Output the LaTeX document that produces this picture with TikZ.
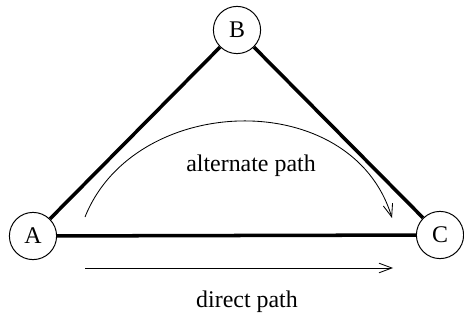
\documentclass[tikz,border=0pt]{standalone}
\usepackage{fontspec}
\setmainfont{Liberation Serif}
\usetikzlibrary{arrows.meta,positioning}

\begin{document}
\begin{tikzpicture}[
  x=0.025cm, y=-0.025cm,
  vertex/.style={draw, circle, line width=0.7pt, minimum size=1.18cm, inner sep=0pt,
    font=\fontsize{17}{20}\selectfont},
  link/.style={line width=2.5pt},
  arr/.style={-{Straight Barb[length=3.2mm, width=2.4mm]}, line width=0.6pt},
  pathlabel/.style={font=\fontsize{17}{20}\selectfont},
]
\useasboundingbox (0,0) rectangle (464,320);

% ===== Vertices =====
\node[vertex] (A) at (33,236) {A};
\node[vertex] (B) at (237,30) {B};
\node[vertex] (C) at (440,235) {C};

% ===== Links =====
\draw[link] (A) -- (B);
\draw[link] (B) -- (C);
\draw[link] (A) -- (C);

% ===== Paths =====
\coordinate (altstart) at (85,217);
\coordinate (altend) at (392,218);
\coordinate (dirstart) at (85,268);
\coordinate (dirend) at (393,268);

\draw[arr] (altstart) .. controls (135,92) and (352,86) .. (altend);
\node[pathlabel] (altlabel) at (251,166) {alternate path};

\draw[arr] (dirstart) -- (dirend);
\node[pathlabel] (dirlabel) at (247,302) {direct path};

\end{tikzpicture}
\end{document}
